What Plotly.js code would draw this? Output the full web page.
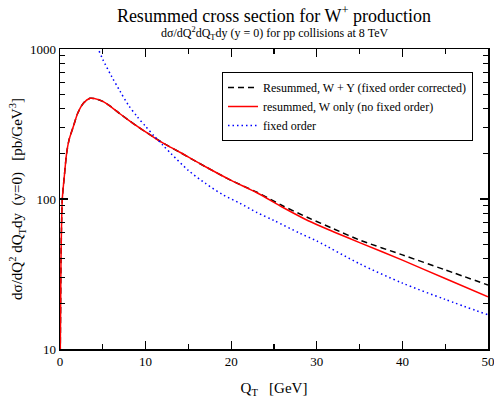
<!DOCTYPE html>
<html>
<head>
<meta charset="utf-8">
<script src="https://cdn.plot.ly/plotly-3.0.1.min.js"></script>
<style>html,body{margin:0;padding:0;background:#fff;}#chart{width:494px;height:400px;}</style>
</head>
<body>
<div id="chart"></div>
<script>
// Q_T values (GeV) for the resummed curves
const qtResum = [0.02, 0.08, 0.12, 0.27, 0.5, 0.78, 1.05, 1.55, 2.07, 2.73, 3.5, 4.0, 5.0, 6.0, 7.0, 8.0, 9.0, 10.0, 11.0, 12.0, 14.0, 17.0, 20.0, 23.0, 26.0, 29.0, 32.0, 35.0, 40.0, 45.0, 50.0];
// resummed, W only (no fixed order)
const wOnly = [8, 20.3, 41, 100, 141, 203, 247, 303, 373, 435, 469, 468, 448, 410, 370, 336, 306, 280, 257, 237, 205, 164, 133, 110, 88.1, 71.6, 60.3, 51.2, 39.1, 29.5, 22.3];
// resummed, W + Y (fixed order corrected)
const wPlusY = [8, 20.3, 41, 100, 141, 203, 247, 303, 373, 435, 469, 468, 448, 410, 370, 336, 306, 280, 257, 237, 205, 164, 133, 111, 90.2, 75.0, 63.1, 53.3, 42.4, 33.7, 26.7];
// fixed order
const qtFixed = [4.2, 4.47, 5, 6, 7, 8, 9, 10, 11, 12, 13, 15, 17, 19, 21, 23, 25, 28, 30, 35, 40, 45, 50];
const fixedOrder = [1096, 1000, 851, 661, 525, 422, 355, 305, 263, 229, 200, 155, 127, 107, 93.8, 81.3, 71.9, 59.2, 52.5, 37.0, 27.5, 21.4, 16.9];

const xTicks = [0, 10, 20, 30, 40, 50];
const xMinor = [5, 15, 25, 35, 45];
const yTicks = [10, 100, 1000];
const yTickText = ['10', '100', '1000'];
const yMinor = [20, 30, 40, 50, 60, 70, 80, 90, 200, 300, 400, 500, 600, 700, 800, 900];

const serif = "Liberation Serif, Times New Roman, serif";

const traces = [
  {x: qtResum, y: wPlusY, mode: 'lines', name: 'Resummed, W + Y (fixed order corrected)',
   line: {color: '#000000', width: 1.5, dash: '6px,4px', shape: 'spline', smoothing: 0.8}},
  {x: qtResum, y: wOnly, mode: 'lines', name: 'resummed, W only (no fixed order)',
   line: {color: '#ff0000', width: 1.5, shape: 'spline', smoothing: 0.8}},
  {x: qtFixed, y: fixedOrder, mode: 'lines', name: 'fixed order',
   line: {color: '#0000ff', width: 1.5, dash: '1.5px,3px', shape: 'spline', smoothing: 0.8}}
];

const layout = {
  width: 494, height: 400,
  margin: {l: 60, r: 6, t: 49, b: 51},
  paper_bgcolor: '#fff', plot_bgcolor: '#fff',
  font: {family: serif, color: '#000', size: 12},
  showlegend: true,
  title: {text: 'Resummed cross section for W<sup>+</sup> production', font: {family: serif, size: 18, color: '#000'},
          x: 0.5, xref: 'paper', xanchor: 'center', y: 1 - 15.5/400, yref: 'container', yanchor: 'middle'},
  annotations: [{
    text: 'dσ/dQ<sup>2</sup>dQ<sub>T</sub>dy (y = 0) for pp collisions at 8 TeV',
    xref: 'paper', yref: 'paper', x: 0.5, y: 1 + 15/300, xanchor: 'center', yanchor: 'middle',
    showarrow: false, font: {family: serif, size: 12, color: '#000'}
  }],
  xaxis: {
    range: [0, 50], tickvals: xTicks, ticks: 'inside', ticklen: 8, tickwidth: 1.2, tickcolor: '#000',
    showline: true, linecolor: '#000', linewidth: 1.5, mirror: 'ticks', showgrid: false, zeroline: false,
    tickfont: {family: serif, size: 13}, ticklabeloverflow: 'allow',
    minor: {tickvals: xMinor, ticks: 'inside', ticklen: 5, tickwidth: 1.2, tickcolor: '#000', showgrid: false},
    title: {text: 'Q<sub>T</sub>   [GeV]', font: {family: serif, size: 15}, standoff: 14}
  },
  yaxis: {
    type: 'log', range: [1, 3], tickvals: yTicks, ticktext: yTickText,
    ticks: 'inside', ticklen: 8, tickwidth: 1.2, tickcolor: '#000',
    showline: true, linecolor: '#000', linewidth: 1.5, mirror: 'ticks', showgrid: false, zeroline: false,
    tickfont: {family: serif, size: 13}, ticklabeloverflow: 'allow',
    minor: {tickvals: yMinor, ticks: 'inside', ticklen: 5, tickwidth: 1.2, tickcolor: '#000', showgrid: false},
    title: {text: 'dσ/dQ<sup>2</sup> dQ<sub>T</sub>dy  (y=0)   [pb/GeV<sup>3</sup>]', font: {family: serif, size: 15}, standoff: 3}
  },
  legend: {
    x: (222 - 60) / 428, y: (349 - 72) / 300, xanchor: 'left', yanchor: 'top',
    bgcolor: '#fff', bordercolor: '#000', borderwidth: 1,
    font: {family: serif, size: 12, color: '#000'},
    tracegroupgap: 0, itemwidth: 30
  }
};

Plotly.newPlot('chart', traces, layout, {displayModeBar: false, staticPlot: true});
</script>
</body>
</html>
